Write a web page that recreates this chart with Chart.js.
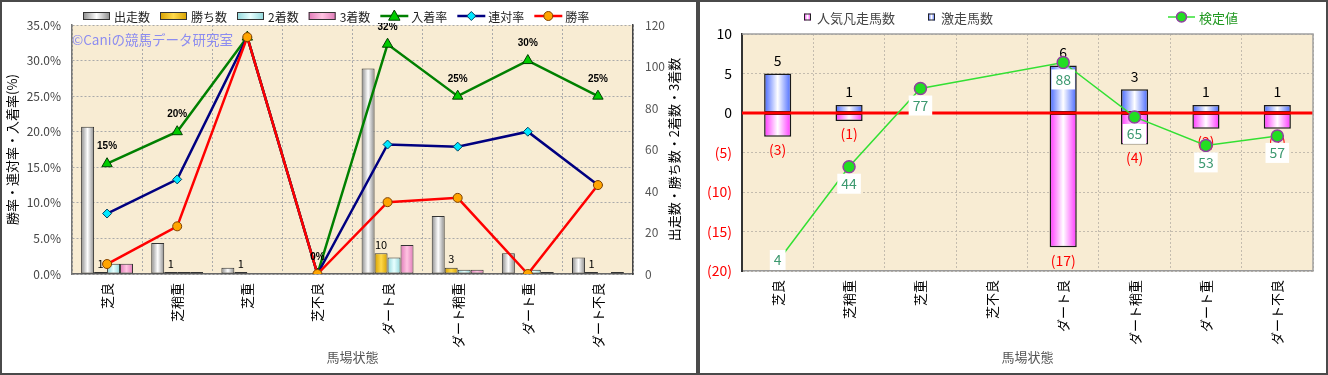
<!DOCTYPE html>
<html>
<head>
<meta charset="utf-8">
<script src="https://cdn.jsdelivr.net/npm/chart.js@4.4.1/dist/chart.umd.min.js"></script>
<style>
  body { margin: 0; background: #fff; width: 1328px; height: 375px; overflow: hidden; position: relative; }
  .panel { position: absolute; top: 0; height: 375px; box-sizing: border-box; border: 2px solid #4a4a4a; background: #fff; }
  #p1 { left: 0; width: 698px; }
  #p2 { left: 698px; width: 630px; }
  canvas { display: block; }
</style>
</head>
<body>
<div class="panel" id="p1"><canvas id="leftChart" width="694" height="371"></canvas></div>
<div class="panel" id="p2"><canvas id="rightChart" width="626" height="371"></canvas></div>
<script>
// 馬場状態
const categories = ["芝良", "芝稍重", "芝重", "芝不良", "ダート良", "ダート稍重", "ダート重", "ダート不良"];

// left chart: counts (right axis)
const runs = [71, 15, 3, 0, 99, 28, 10, 8];
const wins = [1, 1, 1, 0, 10, 3, 0, 1];
const seconds = [5, 1, 0, 0, 8, 2, 2, 0];
const thirds = [5, 1, 0, 0, 14, 2, 1, 1];

// left chart: rates in % (left axis)
const placeRate = [15.5, 20.0, 33.3, 0, 32.3, 25.0, 30.0, 25.0];
const quinellaRate = [8.5, 13.3, 33.3, 0, 18.2, 17.9, 20.0, 12.5];
const winRate = [1.4, 6.7, 33.3, 0, 10.1, 10.7, 0, 12.5];

// right chart
const upsetCounts = [5, 1, 0, 0, 6, 3, 1, 1];          // 激走馬数
const flopCounts = [-3, -1, 0, 0, -17, -4, -2, -2];    // 人気凡走馬数
const testValues = [4, 44, 77, null, 88, 65, 53, 57];  // 検定値

const JP = "'Noto Sans CJK JP', 'Noto Sans', sans-serif";
Chart.defaults.font.family = JP;
Chart.defaults.animation = false;
Chart.defaults.events = [];
Chart.defaults.plugins.legend.display = false;
Chart.defaults.plugins.tooltip.enabled = false;

// horizontal gradient across one bar, worked out from the x scale
function barFill(stops, slot, slots, catPct) {
  return (c) => {
    const chart = c.chart;
    const xs = chart.scales.x;
    if (!chart.chartArea || !xs || c.dataIndex === undefined) return stops[1];
    const step = (xs.right - xs.left) / categories.length;
    const chunk = step * catPct / slots;
    const x0 = xs.getPixelForValue(c.dataIndex) - step * catPct / 2 + chunk * slot;
    const g = chart.ctx.createLinearGradient(x0, 0, x0 + chunk, 0);
    g.addColorStop(0, stops[0]);
    g.addColorStop(0.5, stops[1]);
    g.addColorStop(1, stops[0]);
    return g;
  };
}

function marker(ctx, style, r, x, y) {
  ctx.beginPath();
  if (style === "triangle") {
    ctx.moveTo(x, y - r);
    ctx.lineTo(x + r * 0.95, y + r * 0.7);
    ctx.lineTo(x - r * 0.95, y + r * 0.7);
    ctx.closePath();
  } else if (style === "rectRot") {
    ctx.moveTo(x, y - r); ctx.lineTo(x + r, y); ctx.lineTo(x, y + r); ctx.lineTo(x - r, y);
    ctx.closePath();
  } else {
    ctx.arc(x, y, r, 0, Math.PI * 2);
  }
  ctx.fill();
  ctx.stroke();
}

const plotBg = {
  id: "plotBg",
  beforeDraw(chart) {
    const { ctx, chartArea: a } = chart;
    ctx.save();
    ctx.fillStyle = "#f8ecd3";
    ctx.fillRect(a.left, a.top, a.right - a.left, a.bottom - a.top);
    ctx.restore();
  },
};

// ---------- left chart ----------
const runStops = ["#8a8a8a", "#ffffff"];
const winStops = ["#d6a000", "#ffd94a"];
const secondStops = ["#8fd6da", "#e8ffff"];
const thirdStops = ["#e07ab8", "#ffc4e2"];

const leftExtras = {
  id: "leftExtras",
  afterDatasetsDraw(chart) {
    const { ctx, chartArea: a } = chart;
    ctx.save();
    // 勝ち数 labels
    ctx.font = "11px " + JP;
    ctx.fillStyle = "#000";
    ctx.textAlign = "center";
    ctx.textBaseline = "bottom";
    chart.getDatasetMeta(1).data.forEach((el, i) => {
      if (wins[i] > 0) ctx.fillText(String(wins[i]), el.x, el.y - 3);
    });
    // 入着率 labels
    ctx.beginPath();
    ctx.rect(a.left, a.top - 2, a.right - a.left, a.bottom - a.top + 4);
    ctx.clip();
    ctx.font = "bold 10px 'Liberation Sans', Arial, sans-serif";
    ctx.textBaseline = "middle";
    chart.getDatasetMeta(4).data.forEach((el, i) => {
      ctx.fillText(Math.floor(placeRate[i]) + "%", el.x, el.y - 17);
    });
    ctx.restore();
  },
  afterDraw(chart) {
    const { ctx, chartArea: a } = chart;
    ctx.save();
    // watermark
    ctx.font = "13.5px " + JP;
    ctx.fillStyle = "#8c8cf0";
    ctx.textAlign = "left";
    ctx.textBaseline = "middle";
    ctx.fillText("©Caniの競馬データ研究室", a.left, a.top + 15);

    // right axis title, read bottom to top
    ctx.save();
    ctx.translate(672, (a.top + a.bottom) / 2);
    ctx.rotate(-Math.PI / 2);
    ctx.font = "13px " + JP;
    ctx.fillStyle = "#000";
    ctx.textAlign = "center";
    ctx.fillText("出走数・勝ち数・2着数・3着数", 0, 0);
    ctx.restore();

    // legend
    ctx.font = "12px " + JP;
    ctx.textBaseline = "middle";
    let x = 81;
    const y = 14;
    chart.data.datasets.forEach((ds) => {
      if (ds.type === "bar") {
        const g = ctx.createLinearGradient(x, 0, x + 27, 0);
        g.addColorStop(0, ds.legendStops[0]);
        g.addColorStop(0.5, ds.legendStops[1]);
        g.addColorStop(1, ds.legendStops[0]);
        ctx.fillStyle = g;
        ctx.fillRect(x, y - 4, 27, 8);
        ctx.strokeStyle = "#333";
        ctx.lineWidth = 1;
        ctx.strokeRect(x + 0.5, y - 3.5, 26, 7);
      } else {
        ctx.strokeStyle = ds.borderColor;
        ctx.lineWidth = 2.5;
        ctx.beginPath();
        ctx.moveTo(x, y);
        ctx.lineTo(x + 28, y);
        ctx.stroke();
        ctx.fillStyle = ds.pointBackgroundColor;
        ctx.strokeStyle = ds.pointBorderColor;
        ctx.lineWidth = 1;
        marker(ctx, ds.pointStyle, ds.pointRadius, x + 14, y);
      }
      ctx.fillStyle = "#222";
      ctx.fillText(ds.label, x + 31, y + 1);
      x += 31 + ctx.measureText(ds.label).width + 10;
    });
    ctx.restore();
  },
};

const lineBase = { type: "line", yAxisID: "y", borderWidth: 2.5, tension: 0, pointBorderWidth: 1 };

new Chart(document.getElementById("leftChart"), {
  type: "bar",
  data: {
    labels: categories,
    datasets: [
      { type: "bar", label: "出走数", data: runs, yAxisID: "y1", order: 10, legendStops: runStops,
        backgroundColor: barFill(runStops, 0, 4, 0.74), borderColor: "#333", borderWidth: 1, borderSkipped: false },
      { type: "bar", label: "勝ち数", data: wins, yAxisID: "y1", order: 10, legendStops: winStops,
        backgroundColor: barFill(winStops, 1, 4, 0.74), borderColor: "#333", borderWidth: 1, borderSkipped: false },
      { type: "bar", label: "2着数", data: seconds, yAxisID: "y1", order: 10, legendStops: secondStops,
        backgroundColor: barFill(secondStops, 2, 4, 0.74), borderColor: "#333", borderWidth: 1, borderSkipped: false },
      { type: "bar", label: "3着数", data: thirds, yAxisID: "y1", order: 10, legendStops: thirdStops,
        backgroundColor: barFill(thirdStops, 3, 4, 0.74), borderColor: "#333", borderWidth: 1, borderSkipped: false },
      { ...lineBase, label: "入着率", data: placeRate, order: 3, borderColor: "#008000",
        pointStyle: "triangle", pointRadius: 6, pointBackgroundColor: "#00cc00", pointBorderColor: "#004000" },
      { ...lineBase, label: "連対率", data: quinellaRate, order: 2, borderColor: "#000080",
        pointStyle: "rectRot", pointRadius: 4.5, pointBackgroundColor: "#00e8ff", pointBorderColor: "#004060" },
      { ...lineBase, label: "勝率", data: winRate, order: 1, borderColor: "#ff0000",
        pointStyle: "circle", pointRadius: 4.5, pointBackgroundColor: "#ffa500", pointBorderColor: "#804000" },
    ],
  },
  options: {
    responsive: false,
    categoryPercentage: 0.74,
    barPercentage: 1,
    layout: { padding: { top: 23, right: 0, bottom: 0, left: 0 } },
    scales: {
      x: {
        offset: true,
        grid: { offset: true, color: "#aaa", lineWidth: 1, drawTicks: false },
        border: { color: "#666", width: 1.5, dash: [2, 2] },
        ticks: { minRotation: 90, maxRotation: 90, autoSkip: false, padding: 9, color: "#000", font: { size: 13 } },
        title: { display: true, text: "馬場状態", color: "#555", font: { size: 13 }, padding: { top: 0, bottom: 8 } },
        afterFit: (s) => { s.height = 99; },
      },
      y: {
        position: "left",
        min: 0, max: 35,
        grid: { color: "#aaa", lineWidth: 1, drawTicks: false },
        border: { color: "#777", width: 1.5, dash: [2, 2] },
        ticks: { stepSize: 5, padding: 11, color: "#444", font: { size: 12 }, callback: (v) => v.toFixed(1) + "%" },
        title: { display: true, text: "勝率・連対率・入着率(%)", color: "#000", font: { size: 13 }, padding: { top: 2, bottom: 0 } },
        afterFit: (s) => { s.width = 70; },
      },
      y1: {
        position: "right",
        min: 0, max: 120,
        grid: { drawOnChartArea: false, drawTicks: false },
        border: { color: "#444", width: 1.5 },
        ticks: { stepSize: 20, padding: 12, color: "#555", font: { size: 12 } },
        afterFit: (s) => { s.width = 63; },
      },
    },
  },
  plugins: [plotBg, leftExtras],
});

// ---------- right chart ----------
const flopStops = ["#ff33ff", "#ffffff"];
const upsetStops = ["#4466ff", "#ffffff"];

const rightExtras = {
  id: "rightExtras",
  beforeDatasetDraw(chart, args) {
    if (args.meta.type !== "line") return;
    const { ctx, chartArea: a, scales } = chart;
    ctx.save();
    // zero line
    const y0 = scales.y.getPixelForValue(0);
    ctx.strokeStyle = "#ff0000";
    ctx.lineWidth = 3;
    ctx.beginPath();
    ctx.moveTo(a.left, y0);
    ctx.lineTo(a.right, y0);
    ctx.stroke();
    // bar labels
    ctx.font = "14px " + JP;
    ctx.textAlign = "center";
    ctx.fillStyle = "#000";
    ctx.textBaseline = "bottom";
    chart.getDatasetMeta(1).data.forEach((el, i) => {
      if (upsetCounts[i] > 0) ctx.fillText(String(upsetCounts[i]), el.x, el.y - 6);
    });
    ctx.fillStyle = "#ff0000";
    ctx.textBaseline = "top";
    chart.getDatasetMeta(0).data.forEach((el, i) => {
      if (flopCounts[i] < 0) ctx.fillText("(" + (-flopCounts[i]) + ")", el.x, el.y + 6);
    });
    ctx.restore();
  },
  afterDatasetsDraw(chart) {
    const { ctx, chartArea: a } = chart;
    ctx.save();
    ctx.font = "14px " + JP;
    ctx.textAlign = "center";
    ctx.textBaseline = "middle";
    chart.getDatasetMeta(2).data.forEach((el, i) => {
      if (testValues[i] === null) return;
      const t = String(testValues[i]);
      const w = ctx.measureText(t).width + 8;
      let top = el.y + 7;
      if (top + 20 > a.bottom - 1) top = a.bottom - 21;
      ctx.fillStyle = "#fff";
      ctx.fillRect(el.x - w / 2, top, w, 20);
      ctx.fillStyle = "#3d9970";
      ctx.fillText(t, el.x, top + 10);
    });
    ctx.restore();
  },
  afterDraw(chart) {
    const { ctx, chartArea: a } = chart;
    ctx.save();
    // frame top/right
    ctx.strokeStyle = "#a0a0a0";
    ctx.lineWidth = 1.5;
    ctx.beginPath();
    ctx.moveTo(a.left, a.top);
    ctx.lineTo(a.right, a.top);
    ctx.lineTo(a.right, a.bottom);
    ctx.stroke();

    // legend
    const y = 15;
    ctx.font = "13px " + JP;
    ctx.textBaseline = "middle";
    ctx.textAlign = "left";
    const squares = [[104, flopStops, "人気凡走馬数"], [228, upsetStops, "激走馬数"]];
    squares.forEach(([x, stops, label]) => {
      const g = ctx.createLinearGradient(x, 0, x + 7, 0);
      g.addColorStop(0, stops[0]);
      g.addColorStop(0.5, stops[1]);
      g.addColorStop(1, stops[0]);
      ctx.fillStyle = g;
      ctx.fillRect(x, y - 3.5, 7, 7);
      ctx.strokeStyle = "#222";
      ctx.lineWidth = 1;
      ctx.strokeRect(x + 0.5, y - 3, 6, 6);
      ctx.fillStyle = "#444";
      ctx.fillText(label, x + 13, y + 1);
    });
    const ds = chart.data.datasets[2];
    ctx.strokeStyle = ds.borderColor;
    ctx.lineWidth = 1.5;
    ctx.beginPath();
    ctx.moveTo(468, y);
    ctx.lineTo(495, y);
    ctx.stroke();
    ctx.fillStyle = ds.pointBackgroundColor;
    ctx.strokeStyle = ds.pointBorderColor;
    marker(ctx, "circle", 5, 481.5, y);
    ctx.fillStyle = "#229922";
    ctx.fillText(ds.label, 499, y + 1);
    ctx.restore();
  },
};

new Chart(document.getElementById("rightChart"), {
  type: "bar",
  data: {
    labels: categories,
    datasets: [
      { type: "bar", label: "人気凡走馬数", data: flopCounts, order: 1,
        backgroundColor: barFill(flopStops, 0, 1, 0.38), borderColor: "#1a1a1a", borderWidth: 1.5, borderSkipped: false },
      { type: "bar", label: "激走馬数", data: upsetCounts, order: 1,
        backgroundColor: barFill(upsetStops, 0, 1, 0.38), borderColor: "#1a1a1a", borderWidth: 1.5, borderSkipped: false },
      { type: "line", label: "検定値", data: testValues, yAxisID: "y2", order: 0, spanGaps: true, tension: 0,
        borderColor: "#33e033", borderWidth: 1.5, pointRadius: 6,
        pointBackgroundColor: "#22dd22", pointBorderColor: "#9040a0", pointBorderWidth: 1.5 },
    ],
  },
  options: {
    responsive: false,
    categoryPercentage: 0.38,
    barPercentage: 1,
    layout: { padding: { top: 32, right: 13, bottom: 0, left: 0 } },
    scales: {
      x: {
        stacked: true,
        offset: true,
        grid: { offset: true, color: "#c4bcae", lineWidth: 1, drawTicks: false },
        border: { color: "#999", width: 1.5, dash: [2, 2] },
        ticks: { minRotation: 90, maxRotation: 90, autoSkip: false, padding: 9, color: "#000", font: { size: 13 } },
        title: { display: true, text: "馬場状態", color: "#555", font: { size: 13 }, padding: { top: 0, bottom: 8 } },
        afterFit: (s) => { s.height = 102; },
      },
      y: {
        stacked: true,
        min: -20, max: 10,
        grid: { color: "#c4bcae", lineWidth: 1, drawTicks: false },
        border: { color: "#333", width: 2, dash: [2, 2] },
        ticks: {
          stepSize: 5, padding: 10, font: { size: 14 },
          color: (c) => (c.tick && c.tick.value < 0 ? "#ff0000" : "#000"),
          callback: (v) => (v < 0 ? "(" + (-v) + ")" : String(v)),
        },
        afterFit: (s) => { s.width = 42; },
      },
      y2: { display: false, min: 0, max: 100 },
    },
  },
  plugins: [plotBg, rightExtras],
});
</script>
</body>
</html>
